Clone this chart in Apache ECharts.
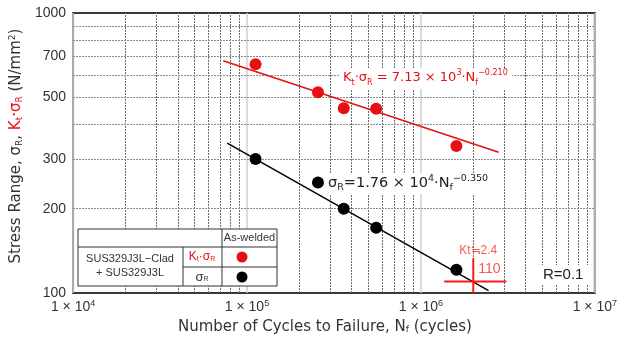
<!DOCTYPE html>
<html>
<head>
<meta charset="utf-8">
<script src="https://cdn.jsdelivr.net/npm/echarts@6/dist/echarts.min.js"></script>
<style>
  html, body { margin: 0; padding: 0; background: #fff; }
  #chart { width: 620px; height: 340px; }
</style>
</head>
<body>
<div id="chart"></div>
<script>
// 測定値 (Nf, 応力範囲)
const ktSigma = [[1.12e5, 656], [2.56e5, 521], [3.6e5, 457], [5.53e5, 455], [1.6e6, 335]]
const sigma = [[1.12e5, 301], [2.56e5, 248], [3.6e5, 200], [5.53e5, 171], [1.6e6, 121]]
// 近似線の両端
const ktFit = [[7.3e4, 675], [2.8e6, 318]]
const sigmaFit = [[7.7e4, 343], [2.45e6, 102]]
// Kt≒2.4 の位置 (2×10^6, 110)
const target = [2e6, 110]
const crossH = [[1.36e6, 110], [3.1e6, 110]]
const crossV = [[2e6, 133], [2e6, 100]]
// 補助目盛
const xMinor = [2e4, 3e4, 4e4, 5e4, 6e4, 7e4, 8e4, 9e4,
  2e5, 3e5, 4e5, 5e5, 6e5, 7e5, 8e5, 9e5,
  2e6, 3e6, 4e6, 5e6, 6e6, 7e6, 8e6, 9e6]
const yGrid = [200, 300, 400, 500, 600, 700, 800, 900]
const yLabels = [200, 300, 500, 700]

const RED = '#e60f14'
const FONT = '"Liberation Sans", Arial, "Noto Sans CJK JP", sans-serif'
const WIDE = '"DejaVu Sans", "Noto Sans CJK JP", sans-serif'

const chart = echarts.init(document.getElementById('chart'))

const eqRich = (color, size) => ({
  n: { fontSize: size, fill: color, fontFamily: WIDE, lineHeight: 18, verticalAlign: 'middle' },
  sub: { fontSize: size - 5, fill: color, fontFamily: WIDE, verticalAlign: 'bottom', lineHeight: 18, padding: [6, 0, 0, 0] },
  sup: { fontSize: size - 5, fill: color, fontFamily: WIDE, verticalAlign: 'top', lineHeight: 18, padding: [0, 0, 6, 0] }
})

// 注記・凡例の表（白地で格子を隠す）
const Z = 100
const parts = [
  { type: 'rect', shape: { x: 340, y: 68, width: 172, height: 21 }, style: { fill: '#fff' } },
  { type: 'rect', shape: { x: 325, y: 173, width: 170, height: 21 }, style: { fill: '#fff' } },
  { type: 'rect', shape: { x: 540, y: 265, width: 49, height: 19 }, style: { fill: '#fff' } },
  {
    type: 'text', x: 343, y: 78,
    style: {
      text: '{n|K}{sub|t}{n|·σ}{sub|R}{n| = 7.13 × 10}{sup|3}{n|·N}{sub|f}{sup|−0.210}',
      verticalAlign: 'middle',
      rich: eqRich(RED, 13)
    }
  },
  {
    type: 'text', x: 328, y: 183,
    style: {
      text: '{n|σ}{sub|R}{n|=1.76 × 10}{sup|4}{n|·N}{sub|f}{sup|−0.350}',
      verticalAlign: 'middle',
      rich: eqRich('#222', 14.5)
    }
  },
  { type: 'text', x: 543, y: 275, style: { text: 'R=0.1', fontSize: 15, fill: '#222', fontFamily: FONT, verticalAlign: 'middle' } },
  { type: 'rect', shape: { x: 78, y: 229, width: 199, height: 57 }, style: { fill: '#fff', stroke: '#333', lineWidth: 1 } },
  { type: 'line', shape: { x1: 78, y1: 247, x2: 277, y2: 247 }, style: { stroke: '#333', lineWidth: 1 } },
  { type: 'line', shape: { x1: 183, y1: 247, x2: 183, y2: 286 }, style: { stroke: '#333', lineWidth: 1 } },
  { type: 'line', shape: { x1: 222, y1: 229, x2: 222, y2: 286 }, style: { stroke: '#333', lineWidth: 1 } },
  { type: 'line', shape: { x1: 183, y1: 267, x2: 277, y2: 267 }, style: { stroke: '#333', lineWidth: 1 } },
  { type: 'text', x: 249.5, y: 238, style: { text: 'As-welded', fontSize: 11, fill: '#333', fontFamily: FONT, align: 'center', verticalAlign: 'middle' } },
  { type: 'text', x: 130, y: 259, style: { text: 'SUS329J3L−Clad', fontSize: 11, fill: '#333', fontFamily: FONT, align: 'center', verticalAlign: 'middle' } },
  { type: 'text', x: 130, y: 273, style: { text: '+ SUS329J3L', fontSize: 11, fill: '#333', fontFamily: FONT, align: 'center', verticalAlign: 'middle' } },
  {
    type: 'text', x: 202, y: 257,
    style: {
      text: '{n|K}{s|t}{n|·σ}{s|R}', align: 'center', verticalAlign: 'middle',
      rich: {
        n: { fontSize: 12, fill: RED, fontFamily: FONT },
        s: { fontSize: 7, fill: RED, fontFamily: FONT, padding: [5, 0, 0, 0] }
      }
    }
  },
  {
    type: 'text', x: 202, y: 277,
    style: {
      text: '{n|σ}{s|R}', align: 'center', verticalAlign: 'middle',
      rich: {
        n: { fontSize: 13, fill: '#333', fontFamily: FONT },
        s: { fontSize: 7, fill: '#333', fontFamily: FONT, padding: [5, 0, 0, 0] }
      }
    }
  },
  { type: 'circle', shape: { cx: 242, cy: 257, r: 5.5 }, style: { fill: RED } },
  { type: 'circle', shape: { cx: 242, cy: 277, r: 5.5 }, style: { fill: '#000' } }
]
parts.forEach((p, i) => { p.z = Z + i })

let option = {
  animation: false,
  grid: {
    left: 72, right: 25, top: 13, bottom: 47,
    show: true, borderColor: '#3a3a3a', borderWidth: 2, backgroundColor: '#fff'
  },
  xAxis: {
    type: 'log',
    logBase: 10,
    min: 1e4,
    max: 1e7,
    axisLine: { show: false },
    axisTick: { show: false },
    splitLine: { show: true, lineStyle: { color: '#cfcfcf', width: 1.5 } },
    axisLabel: {
      margin: 6,
      formatter: (v) => '{a|1 × 10}{s|' + Math.round(Math.log10(v)) + '}',
      rich: {
        a: { fontSize: 14, color: '#333', fontFamily: FONT },
        s: { fontSize: 9, color: '#333', fontFamily: FONT, verticalAlign: 'top', padding: [0, 0, 8, 0] }
      }
    },
    name: '{n|Number of Cycles to Failure, N}{sub|f}{n| (cycles)}',
    nameLocation: 'middle',
    nameGap: 24,
    nameTextStyle: {
      padding: [0, 18, 0, 0],
      rich: {
        n: { fontSize: 15, color: '#333', fontFamily: WIDE },
        sub: { fontSize: 9, color: '#333', fontFamily: WIDE, padding: [6, 0, 0, 0] }
      }
    }
  },
  yAxis: {
    type: 'log',
    logBase: 10,
    min: 100,
    max: 1000,
    axisLine: { show: false },
    axisTick: { show: false },
    splitLine: { show: false },
    axisLabel: { fontSize: 14, color: '#333', fontFamily: FONT, margin: 7, formatter: (v) => String(Math.round(v)) },
    name: '{n|Stress Range, σ}{sub|R}{n|, }{r|K}{rsub|t}{r|·σ}{rsub|R}{n| (N/mm}{sup|2}{n|)}',
    nameLocation: 'middle',
    nameGap: 41,
    nameTextStyle: {
      padding: [0, 0, 0, 14],
      rich: {
        n: { fontSize: 15, color: '#333', fontFamily: WIDE },
        r: { fontSize: 15, color: RED, fontFamily: WIDE },
        sub: { fontSize: 9, color: '#333', fontFamily: WIDE, padding: [6, 0, 0, 0] },
        rsub: { fontSize: 9, color: RED, fontFamily: WIDE, padding: [6, 0, 0, 0] },
        sup: { fontSize: 9, color: '#333', fontFamily: WIDE, verticalAlign: 'top', padding: [0, 0, 8, 0] }
      }
    }
  },
  series: [
    {
      // 補助格子
      type: 'line',
      data: [],
      silent: true,
      z: 1,
      markLine: {
        silent: true,
        symbol: 'none',
        animation: false,
        z: 1,
        data: xMinor.map(v => ({
          xAxis: v,
          label: { show: false },
          lineStyle: { color: '#6a6a6a', type: [2, 1], width: 1 }
        })).concat(yGrid.map(v => ({
          yAxis: v,
          label: {
            show: yLabels.includes(v),
            position: 'start',
            distance: 7,
            formatter: String(v),
            fontSize: 14, color: '#333', fontFamily: FONT
          },
          lineStyle: { color: '#8a8a8a', type: [2, 1], width: 1 }
        })))
      }
    },
    {
      type: 'line',
      data: ktFit,
      showSymbol: false,
      lineStyle: { color: RED, width: 1.5 },
      z: 3
    },
    {
      type: 'line',
      data: sigmaFit,
      showSymbol: false,
      lineStyle: { color: '#000', width: 1.5 },
      z: 3
    },
    {
      type: 'scatter',
      data: ktSigma,
      symbolSize: 12,
      itemStyle: { color: RED, opacity: 1 },
      z: 4
    },
    {
      type: 'scatter',
      data: sigma,
      symbolSize: 12,
      itemStyle: { color: '#000', opacity: 1 },
      z: 4
    },
    {
      type: 'line',
      data: crossH,
      showSymbol: false,
      lineStyle: { color: '#ff1a1a', width: 2 },
      z: 5
    },
    {
      type: 'line',
      data: crossV,
      showSymbol: false,
      lineStyle: { color: '#ff1a1a', width: 2 },
      z: 5
    },
    {
      type: 'scatter',
      symbolSize: 0,
      z: 6,
      label: { show: true, color: '#ff2a2a', fontFamily: FONT, fontSize: 12 },
      data: [
        { value: target, label: { formatter: 'Kt≒2.4', position: [-14, -37] } },
        { value: target, label: { formatter: '110', position: [5, -19], fontSize: 14 } }
      ]
    }
  ],
  graphic: parts
}

chart.setOption(option)
</script>
</body>
</html>
